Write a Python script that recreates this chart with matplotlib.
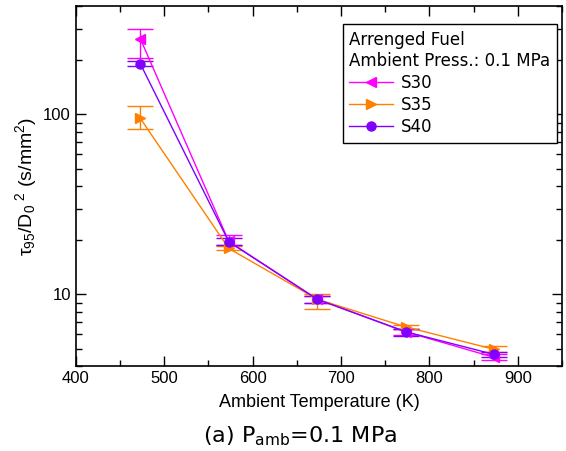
import matplotlib
matplotlib.use("Agg")
import matplotlib.pyplot as plt
from matplotlib.lines import Line2D
from matplotlib.ticker import LogLocator, NullFormatter, MultipleLocator, FixedLocator

plt.rcParams['font.family'] = ['Liberation Sans', 'DejaVu Sans']
plt.rcParams['mathtext.default'] = 'regular'

# Ambient temperature (K) and normalised lifetime tau95/D0^2 (s/mm^2)
temperature = [473, 573, 673, 773, 873]

s30 = [263, 19.7, 9.4, 6.2, 4.47]
s30_err_lo = [57, 1.0, 0.4, 0.25, 0.15]
s30_err_hi = [37, 1.6, 0.4, 0.25, 0.2]

s35 = [95, 18.0, 9.4, 6.6, 4.95]
s35_err_lo = [12.5, 0.4, 1.1, 0.2, 0.15]
s35_err_hi = [16, 0.6, 0.6, 0.2, 0.2]

s40 = [191, 19.6, 9.4, 6.2, 4.64]
s40_err_lo = [6, 0.8, 0.4, 0.35, 0.15]
s40_err_hi = [7, 1.0, 0.4, 0.25, 0.15]

series = [
    ("S30", s30, s30_err_lo, s30_err_hi, "#FF00FF", "<"),
    ("S35", s35, s35_err_lo, s35_err_hi, "#FF8000", ">"),
    ("S40", s40, s40_err_lo, s40_err_hi, "#7F00FF", "o"),
]

fig = plt.figure(figsize=(5.66, 4.51), dpi=100)
ax = fig.add_axes([0.134, 0.1885, 0.859, 0.798])

handles = []
for name, vals, lo, hi, color, marker in series:
    ax.errorbar(temperature, vals, yerr=[lo, hi], color=color, marker=marker,
                markersize=6.5, linewidth=1.0, elinewidth=1.0, capsize=9.5,
                capthick=1.0)
    handles.append(Line2D([], [], color=color, marker=marker, markersize=6.5,
                          linewidth=1.0, label=name))

ax.set_yscale('log')
ax.set_xlim(400, 950)
ax.set_ylim(4, 400)

ax.xaxis.set_major_locator(FixedLocator([400, 500, 600, 700, 800, 900]))
ax.xaxis.set_minor_locator(MultipleLocator(50))
ax.yaxis.set_major_locator(FixedLocator([10, 100]))
ax.yaxis.set_minor_locator(LogLocator(base=10, subs=range(2, 10)))
ax.yaxis.set_minor_formatter(NullFormatter())
ax.set_yticklabels(['10', '100'])

ax.tick_params(which='both', direction='in', top=True, right=True,
               labelsize=12, width=1.0)
ax.tick_params(which='major', length=7)
ax.tick_params(which='minor', length=4)
for sp in ax.spines.values():
    sp.set_linewidth(1.2)

ax.set_xlabel('Ambient Temperature (K)', fontsize=13, labelpad=6)
ax.set_ylabel(r'$\tau_{95}$/D$_0$$^{\ 2}$ (s/mm$^2$)', fontsize=14, labelpad=3)

leg = ax.legend(handles=handles, loc='upper right', bbox_to_anchor=(0.99, 0.95),
                title='Arrenged Fuel\nAmbient Press.: 0.1 MPa',
                alignment='left', fancybox=False, edgecolor='black',
                framealpha=1, fontsize=12, title_fontsize=12,
                handlelength=2.6, handletextpad=0.5, borderpad=0.4,
                labelspacing=0.25, borderaxespad=0)
leg.get_frame().set_linewidth(1.0)
plt.setp(leg.get_title(), family=['DejaVu Sans'])
for t in leg.get_texts():
    t.set_family(['DejaVu Sans'])

fig.text(0.53, 0.033, r'(a) P$_{amb}$=0.1 MPa', ha='center', va='center',
         fontsize=16, family=['DejaVu Sans'])

fig.savefig('out.png', dpi=100)
